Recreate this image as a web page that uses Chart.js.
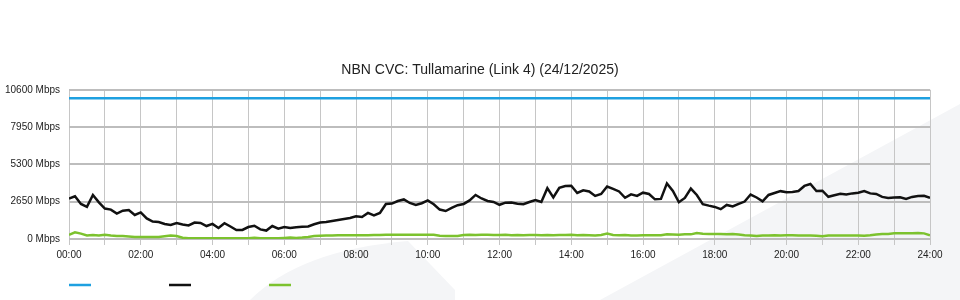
<!DOCTYPE html>
<html lang="en">
<head>
<meta charset="UTF-8">
<title>NBN CVC: Tullamarine (Link 4)</title>
<style>
    body { margin: 0; padding: 0; background: #fff; }
    #wrap { width: 960px; height: 300px; }
</style>
</head>
<body>
<div id="wrap"><canvas id="cvc" width="960" height="300"></canvas></div>
<script src="https://cdn.jsdelivr.net/npm/chart.js"></script>
<script>
    const chartTitle = 'NBN CVC: Tullamarine (Link 4) (24/12/2025)';
    const yTicks = [0, 2650, 5300, 7950, 10600];
    const xTickLabels = ['00:00', '02:00', '04:00', '06:00', '08:00', '10:00', '12:00',
        '14:00', '16:00', '18:00', '20:00', '22:00', '24:00'];
    const sampleStep = 10; // minutes between samples

    // provisioned capacity (flat)
    const capacityMinutes = [0, 1440];
    const capacityMbps = [10000, 10000];

    // traffic, one value every 10 minutes from 00:00 to 24:00
    const downloadMbps = [
        2880, 3030, 2490, 2280, 3130, 2600, 2160, 2090, 1810, 2010,
        2060, 1710, 1890, 1460, 1240, 1210, 1070, 1000, 1140, 1030,
        960, 1170, 1140, 920, 1070, 780, 1120, 890, 640, 640,
        850, 940, 680, 600, 920, 730, 850, 780, 840, 870,
        890, 1050, 1170, 1210, 1280, 1350, 1420, 1490, 1610, 1560,
        1850, 1670, 1850, 2490, 2520, 2700, 2810, 2560, 2420, 2540,
        2740, 2470, 2090, 1990, 2210, 2400, 2490, 2740, 3130, 2880,
        2700, 2630, 2430, 2580, 2600, 2510, 2470, 2630, 2770, 2630,
        3610, 2950, 3640, 3770, 3790, 3270, 3460, 3380, 3060, 3200,
        3730, 3560, 3380, 2930, 3170, 3060, 3290, 3200, 2820, 2850,
        3950, 3410, 2610, 2920, 3580, 3130, 2480, 2370, 2280, 2120,
        2420, 2310, 2490, 2660, 3160, 2950, 2670, 3130, 3270, 3400,
        3330, 3340, 3410, 3770, 3910, 3410, 3430, 3000, 3110, 3220,
        3160, 3240, 3290, 3410, 3240, 3200, 2990, 2920, 2950, 2970,
        2850, 2990, 3060, 3070, 2920
    ];
    const uploadMbps = [
        300, 470, 380, 250, 280, 250, 300, 250, 210, 210,
        180, 140, 140, 150, 140, 140, 200, 250, 210, 90,
        60, 60, 60, 60, 60, 60, 60, 60, 60, 60,
        60, 80, 60, 60, 60, 60, 80, 100, 80, 110,
        150, 210, 230, 240, 250, 260, 260, 260, 270, 270,
        260, 280, 290, 300, 300, 300, 300, 300, 300, 300,
        300, 300, 230, 210, 220, 220, 280, 300, 290, 300,
        300, 290, 280, 300, 270, 290, 260, 290, 280, 260,
        290, 270, 290, 280, 300, 270, 290, 270, 250, 290,
        380, 290, 260, 280, 250, 250, 260, 260, 260, 270,
        330, 320, 310, 340, 330, 430, 380, 360, 360, 350,
        340, 360, 320, 260, 240, 210, 250, 240, 260, 250,
        260, 260, 250, 240, 250, 230, 190, 240, 250, 250,
        250, 250, 240, 230, 270, 320, 350, 360, 400, 410,
        400, 400, 420, 400, 260
    ];

    const FONT = "'Liberation Sans', Arial, sans-serif";
    const sampleMinutes = downloadMbps.map((_, i) => i * sampleStep);
    const toPoints = (xs, ys) => ys.map((y, i) => ({ x: xs[i], y: y }));

    // faint watermark shapes behind the plot
    const backdrop = {
        id: 'backdrop',
        beforeDraw(chart) {
            const ctx = chart.ctx;
            ctx.save();
            ctx.fillStyle = '#f4f5f7';
            ctx.beginPath();
            ctx.moveTo(960, 104);
            ctx.lineTo(960, 300);
            ctx.lineTo(600, 300);
            ctx.closePath();
            ctx.fill();
            ctx.beginPath();
            ctx.moveTo(250, 300);
            ctx.quadraticCurveTo(300, 250, 408, 241);
            ctx.lineTo(455, 290);
            ctx.lineTo(455, 300);
            ctx.closePath();
            ctx.fill();
            ctx.restore();
        }
    };

    // legend: just a short line sample per series
    const lineLegend = {
        id: 'lineLegend',
        afterDraw(chart) {
            const ctx = chart.ctx;
            const left = chart.chartArea.left;
            ctx.save();
            ctx.lineWidth = 2.5;
            chart.data.datasets.forEach((ds, i) => {
                ctx.strokeStyle = ds.borderColor;
                ctx.beginPath();
                ctx.moveTo(left + i * 100, 285);
                ctx.lineTo(left + i * 100 + 22, 285);
                ctx.stroke();
            });
            ctx.restore();
        }
    };

    new Chart(document.getElementById('cvc'), {
        type: 'line',
        data: {
            datasets: [
                {
                    label: 'Capacity',
                    data: toPoints(capacityMinutes, capacityMbps),
                    borderColor: '#1ea0e0',
                    borderWidth: 2.5
                },
                {
                    label: 'Download',
                    data: toPoints(sampleMinutes, downloadMbps),
                    borderColor: '#111111',
                    borderWidth: 2.5
                },
                {
                    label: 'Upload',
                    data: toPoints(sampleMinutes, uploadMbps),
                    borderColor: '#7cc22e',
                    borderWidth: 2.5
                }
            ]
        },
        options: {
            responsive: false,
            animation: false,
            devicePixelRatio: 1,
            elements: {
                point: { radius: 0 },
                line: { tension: 0 }
            },
            layout: { padding: 0 },
            plugins: {
                legend: { display: false },
                tooltip: { enabled: false },
                title: {
                    display: true,
                    text: chartTitle,
                    color: '#222',
                    font: { family: FONT, size: 14, weight: 'normal' },
                    padding: { top: 62, bottom: 11 }
                }
            },
            scales: {
                x: {
                    type: 'linear',
                    min: 0,
                    max: 1440,
                    afterFit: s => { s.height = 61; },
                    ticks: {
                        stepSize: 60,
                        autoSkip: false,
                        maxRotation: 0,
                        padding: 4,
                        color: '#222',
                        font: { family: FONT, size: 10 },
                        callback: v => (v % 120 === 0 ? xTickLabels[v / 120] : '')
                    },
                    grid: { color: '#c6c6c6', lineWidth: 1, tickLength: 6 },
                    border: { display: false }
                },
                y: {
                    min: 0,
                    max: 10600,
                    afterFit: s => { s.width = 69; },
                    afterBuildTicks: s => { s.ticks = yTicks.map(v => ({ value: v })); },
                    ticks: {
                        padding: 9,
                        color: '#222',
                        font: { family: FONT, size: 10 },
                        callback: v => v + ' Mbps'
                    },
                    grid: { color: '#bdbdbd', lineWidth: 2, drawTicks: false },
                    border: { display: false }
                },
                // empty right gutter so the plot ends at 24:00 with room to spare
                gutter: {
                    position: 'right',
                    min: 0,
                    max: 1,
                    afterFit: s => { s.width = 30; },
                    ticks: { display: false },
                    grid: { display: false },
                    border: { display: false }
                }
            }
        },
        plugins: [backdrop, lineLegend]
    });
</script>
</body>
</html>
